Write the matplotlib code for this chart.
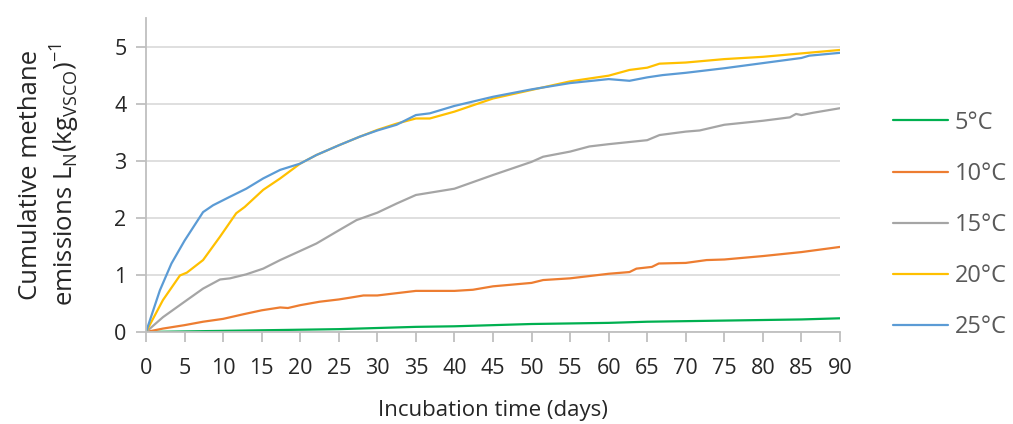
import matplotlib
matplotlib.use("Agg")
import matplotlib.pyplot as plt

# ---- data ----
days_5 = [0, 5, 10, 15, 20, 25, 30, 35, 40, 45, 50, 55, 60, 65, 70, 75, 80, 85, 90]
vals_5 = [0, 0.01, 0.02, 0.03, 0.04, 0.05, 0.07, 0.09, 0.10, 0.12, 0.14, 0.15, 0.16, 0.18, 0.19, 0.20, 0.21, 0.22, 0.24]

days_10 = [0, 2.2, 5, 7.4, 10, 12.6, 15, 17.4, 18.4, 20, 22.5, 25, 26.4, 28.2, 30, 32.5, 35, 36.8, 40,
           42.4, 45, 50, 51.5, 55, 60, 62.7, 63.6, 65.6, 66.5, 70, 72.7, 75, 80, 85, 90]
vals_10 = [0, 0.06, 0.12, 0.18, 0.23, 0.31, 0.38, 0.43, 0.42, 0.47, 0.53, 0.57, 0.60, 0.64, 0.64, 0.68, 0.72, 0.72, 0.72,
           0.74, 0.80, 0.86, 0.91, 0.94, 1.02, 1.05, 1.11, 1.14, 1.20, 1.21, 1.26, 1.27, 1.33, 1.40, 1.49]

days_15 = [0, 2.2, 5, 7.4, 9.6, 10.9, 13, 15.2, 17.4, 20, 22.1, 25, 27.3, 30, 32.5, 35, 40, 45, 50, 51.5,
           55, 57.5, 60, 65, 66.6, 70, 71.8, 75, 80, 83.5, 84.3, 85, 86.5, 90]
vals_15 = [0, 0.26, 0.53, 0.76, 0.92, 0.94, 1.01, 1.11, 1.26, 1.42, 1.55, 1.78, 1.96, 2.09, 2.25, 2.40, 2.51, 2.75, 2.98, 3.07,
           3.16, 3.25, 3.29, 3.36, 3.45, 3.51, 3.53, 3.63, 3.70, 3.76, 3.82, 3.80, 3.84, 3.92]

days_20 = [0, 2.2, 4.4, 5.3, 7.4, 9.6, 11.7, 12.8, 15.2, 17.4, 20, 22.1, 25, 27.7, 30, 32.5, 35, 36.8, 40, 45,
           50, 55, 60, 62.7, 65, 66.6, 70, 75, 80, 85, 90]
vals_20 = [0, 0.56, 0.99, 1.04, 1.26, 1.67, 2.08, 2.19, 2.49, 2.69, 2.95, 3.10, 3.27, 3.42, 3.54, 3.65, 3.74, 3.74, 3.86, 4.09,
           4.24, 4.39, 4.49, 4.59, 4.63, 4.70, 4.72, 4.78, 4.82, 4.88, 4.94]

days_25 = [0, 1.8, 3.3, 5, 7.4, 8.7, 10.9, 13, 15.2, 17.4, 20, 22.1, 25, 27.7, 30, 32.5, 35, 36.8, 40, 45,
           50, 55, 60, 62.7, 65, 67, 70, 75, 80, 85, 86, 90]
vals_25 = [0, 0.73, 1.20, 1.60, 2.10, 2.22, 2.37, 2.51, 2.69, 2.84, 2.95, 3.10, 3.27, 3.42, 3.53, 3.63, 3.80, 3.83, 3.96, 4.12,
           4.25, 4.36, 4.43, 4.40, 4.46, 4.50, 4.54, 4.62, 4.71, 4.80, 4.84, 4.89]

labels = ["5°C", "10°C", "15°C", "20°C", "25°C"]
colors = ["#00b050", "#ed7d31", "#a5a5a5", "#ffc000", "#5b9bd5"]
series = [(days_5, vals_5), (days_10, vals_10), (days_15, vals_15), (days_20, vals_20), (days_25, vals_25)]

x_ticks = list(range(0, 91, 5))
y_ticks = [0, 1, 2, 3, 4, 5]

plt.rcParams['font.family'] = ['Open Sans', 'DejaVu Sans']

fig = plt.figure(figsize=(10.13, 4.24), dpi=100)
ax = fig.add_axes([146 / 1013, 1 - 332 / 424, (840 - 146) / 1013, (332 - 18) / 424])

for (d, v), lab, c in zip(series, labels, colors):
    ax.plot(d, v, color=c, lw=1.6, label=lab, solid_capstyle='round')

ax.set_xlim(0, 90)
ax.set_ylim(0, 5.5)
ax.set_xticks(x_ticks)
ax.set_yticks(y_ticks)
ax.grid(axis='y', color='#d9d9d9', lw=1.2)
ax.set_axisbelow(True)
for s in ['top', 'right']:
    ax.spines[s].set_visible(False)
for s in ['left', 'bottom']:
    ax.spines[s].set_color('#bfbfbf')
    ax.spines[s].set_linewidth(1.3)
ax.tick_params(axis='both', colors='#bfbfbf', width=1.3, length=7, labelcolor='#262626', labelsize=15.5)
ax.tick_params(axis='x', pad=12)
ax.tick_params(axis='y', pad=7)

ax.set_xlabel("Incubation time (days)", fontsize=16, color='#262626', labelpad=15)
ax.set_ylabel("Cumulative methane\n" + r"emissions L$_\mathregular{N}$(kg$_\mathregular{VSCO}$)$^\mathregular{-1}$",
              fontsize=18.5, color='#262626', labelpad=24, linespacing=1.15)

leg = ax.legend(loc='center left', bbox_to_anchor=(893 / 1013, 1 - 225 / 424), bbox_transform=fig.transFigure,
                frameon=False, fontsize=17, handlelength=2.35, handletextpad=0.25, labelspacing=1.15,
                borderpad=0, borderaxespad=0)
for t in leg.get_texts():
    t.set_color('#595959')

fig.savefig("out.png", dpi=100)
